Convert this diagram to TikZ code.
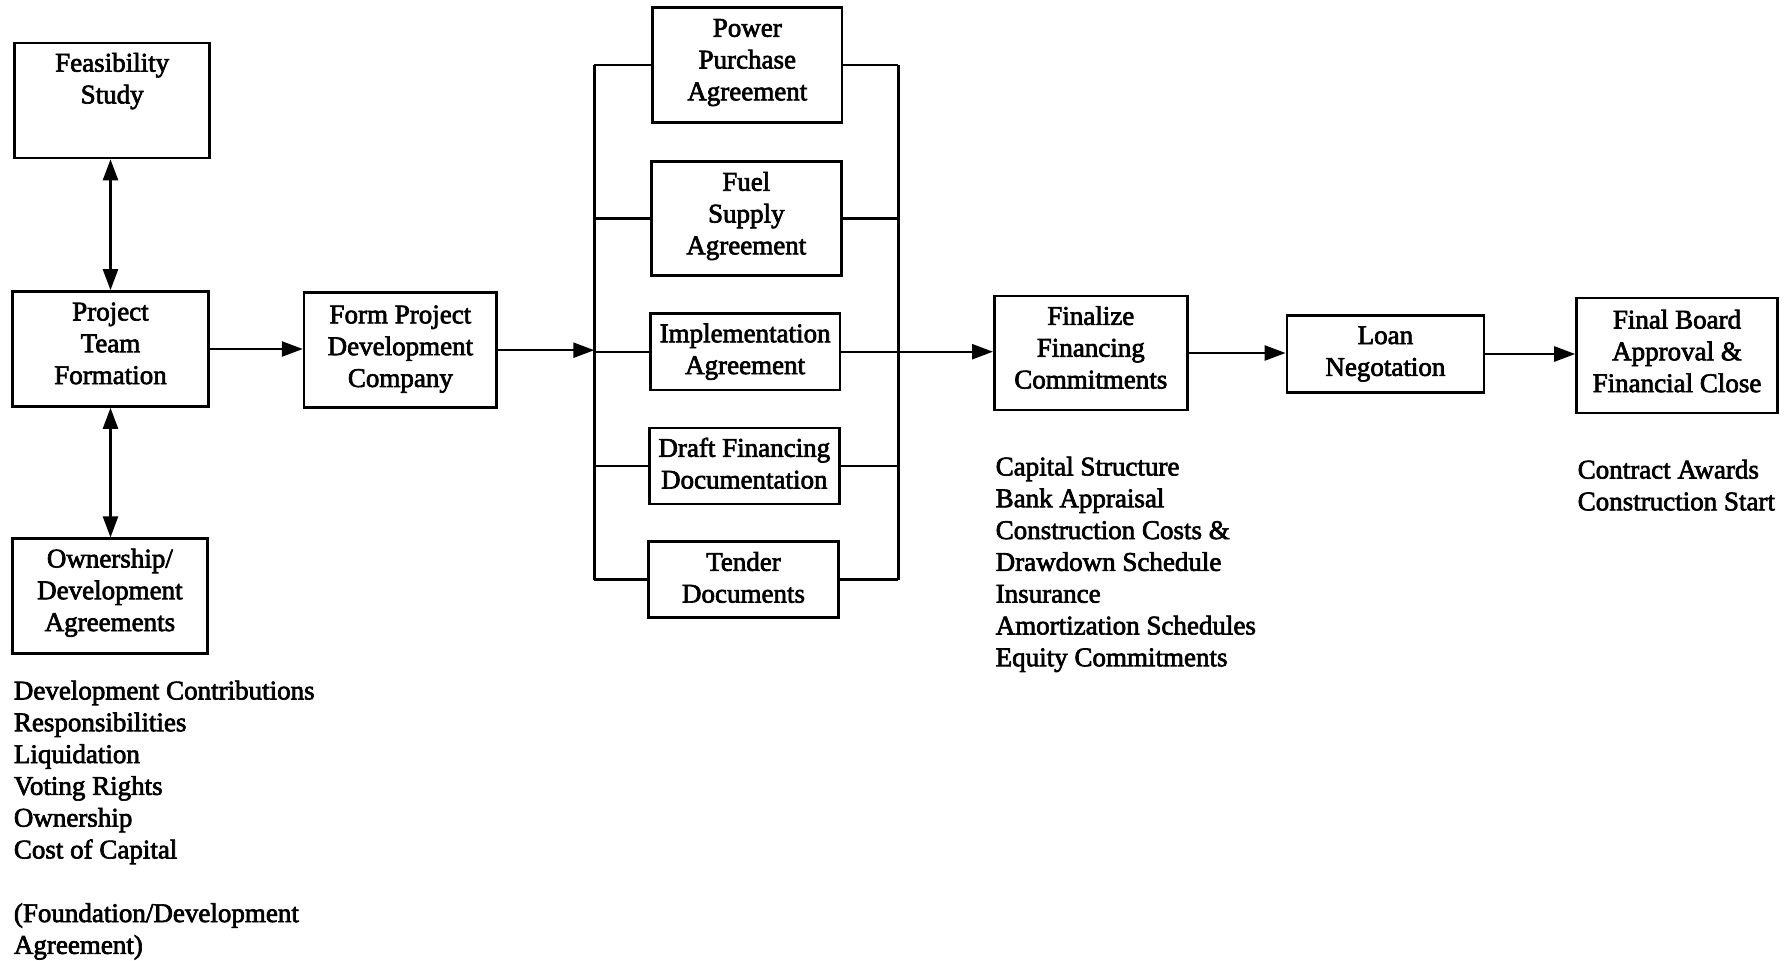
\documentclass[tikz,border=0pt]{standalone}
\usepackage{fontspec}
\setmainfont{Liberation Serif}
\newfontfamily\heavyserif{Liberation Serif}[FakeBold=2.5]
\usetikzlibrary{arrows.meta}
\begin{document}
\begin{tikzpicture}[x=1pt,y=-1pt,
  every node/.style={font=\heavyserif\fontsize{27}{31.8}\selectfont},
  box/.style={draw, line width=2.6pt, align=center, inner sep=0pt},
  conn/.style={line width=2.4pt},
  arr/.style={conn, -{Triangle[length=21pt,width=15pt]}},
  dbl/.style={conn, {Triangle[length=21pt,width=15pt]}-{Triangle[length=21pt,width=15pt]}},
  list/.style={align=left, anchor=north west, inner sep=0pt}]
\useasboundingbox (0,0) rectangle (1786,961);

% left column
\node[box, minimum width=195pt, minimum height=115pt] (fs) at (112.2,100.5) {};
\node[anchor=north, align=center, inner sep=0pt] (fstext) at ([yshift=-11pt]fs.north) {Feasibility\\Study};
\node[box, minimum width=196pt, minimum height=115pt, text depth=11.4pt] (ptf) at (110.5,349) {Project\\Team\\Formation};
\node[box, minimum width=195pt, minimum height=115pt, text depth=12.7pt] (own) at (109.9,596.2) {Ownership/\\Development\\Agreements};
\node[box, minimum width=192.5pt, minimum height=115pt, text depth=8pt] (fpdc) at (400.4,350.2) {Form Project\\Development\\Company};

% parallel agreements
\node[box, minimum width=189.3pt, minimum height=115pt, text depth=10.5pt] (ppa) at (747.3,64.9) {Power\\Purchase\\Agreement};
\node[box, minimum width=189.8pt, minimum height=114.3pt, text depth=10.5pt] (fuel) at (746.3,218.4) {Fuel\\Supply\\Agreement};
\node[box, minimum width=189.8pt, minimum height=76.3pt] (impl) at (745.1,351.7) {Implementation\\Agreement};
\node[box, minimum width=189.8pt, minimum height=76.3pt, text depth=5.7pt] (draft) at (744.3,466) {Draft Financing\\Documentation};
\node[box, minimum width=189.8pt, minimum height=76pt, text depth=4.6pt] (tender) at (743.5,579.6) {Tender\\Documents};

% right chain
\node[box, minimum width=193pt, minimum height=114pt, text depth=11.4pt] (fin) at (1090.8,353) {Finalize\\Financing\\Commitments};
\node[box, minimum width=197pt, minimum height=77.5pt] (loan) at (1385.4,354) {Loan\\Negotation};
\node[box, minimum width=201pt, minimum height=115pt, text depth=9.1pt] (final) at (1677,355.5) {Final Board\\Approval \&\\Financial Close};

% bus coordinates
\coordinate (busL) at (594.3,351);
\coordinate (busR) at (898.4,351);

% connectors
\draw[dbl] (ptf.north) -- (ptf.north |- fs.south);
\draw[dbl] (ptf.south) -- (ptf.south |- own.north);
\draw[arr] (ptf.east) -- (ptf.east -| fpdc.west);
\draw[arr] (fpdc.east) -- (fpdc.east -| busL);
\draw[conn] (ppa.west -| busL) -- (tender.west -| busL);
\draw[conn] (ppa.east -| busR) -- (tender.east -| busR);
\foreach \n in {ppa,fuel,impl,draft,tender}{
  \draw[conn] (\n.west) -- (\n.west -| busL);
  \draw[conn] (\n.east) -- (\n.east -| busR);
}
\draw[arr] (impl.east -| busR) -- (impl.east -| fin.west);
\draw[arr] (fin.east) -- (fin.east -| loan.west);
\draw[arr] (loan.east) -- (loan.east -| final.west);

% lists
\node[list] (finlist) at (995.5,456.5) {Capital Structure\\Bank Appraisal\\Construction Costs \&\\Drawdown Schedule\\Insurance\\Amortization Schedules\\Equity Commitments};
\node[list] (closelist) at (1577.5,459.6) {Contract Awards\\Construction Start};
\node[list] (ownlist) at (13.7,680.5) {Development Contributions\\Responsibilities\\Liquidation\\Voting Rights\\Ownership\\Cost of Capital\\[31.8pt](Foundation/Development\\Agreement)};
\end{tikzpicture}
\end{document}
